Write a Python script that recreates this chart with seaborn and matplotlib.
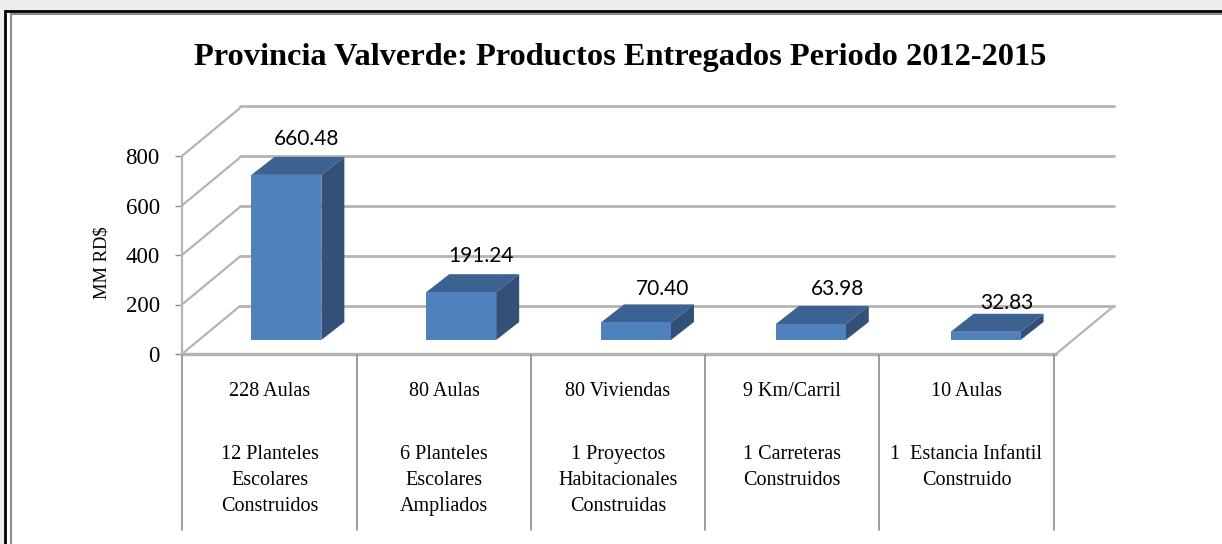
import matplotlib
matplotlib.use("Agg")
import matplotlib.pyplot as plt
import seaborn as sns
import pandas as pd
from matplotlib.patches import Polygon, Rectangle
from matplotlib.lines import Line2D

W, H = 1222, 544
categories = ["228 Aulas", "80 Aulas", "80 Viviendas", "9 Km/Carril", "10 Aulas"]
values = [660.48, 191.24, 70.40, 63.98, 32.83]
value_labels = ["660.48", "191.24", "70.40", "63.98", "32.83"]
descriptions = ["12 Planteles\nEscolares\nConstruidos", "6 Planteles\nEscolares\nAmpliados",
                "1 Proyectos\nHabitacionales\nConstruidas", "1 Carreteras\nConstruidos",
                "1  Estancia Infantil\nConstruido"]
y_ticks = [0, 200, 400, 600, 800]
title = "Provincia Valverde: Productos Entregados Periodo 2012-2015"
y_label = "MM RD$"

sns.set_theme(style="white")
plt.rcParams["font.family"] = ["Liberation Serif", "DejaVu Serif"]

fig = plt.figure(figsize=(W / 100, H / 100), dpi=100, facecolor="#efeeec")

X0, X1, Y0, Y1 = 182, 1056, 354, 156   # front plane in px
DX, DY = 58, 48                        # wall depth
BDX, BDY = 17, 14                      # bar front offset
DEPTH_X, DEPTH_Y = 23, 18              # bar depth
LABEL_PX = [(307, 139), (481, 256), (663, 289), (838, 289), (1007, 303)]  # label anchors

def axes_at(x0, x1, y0, y1, z):
    a = fig.add_axes([x0 / W, 1 - y0 / H, (x1 - x0) / W, (y0 - y1) / H], zorder=z)
    a.patch.set_alpha(0)
    return a

# overlay in pixel coordinates for frame and projection lines
bg = fig.add_axes([0, 0, 1, 1], zorder=0)
bg.set_xlim(0, W); bg.set_ylim(H, 0); bg.axis("off")
bg.add_patch(Rectangle((5, 10.5), 1300, 600, fc="white", ec="black", lw=2))
bg.add_patch(Rectangle((10.5, 14), 1300, 600, fc="white", ec="#8a8a8a", lw=1.5))

GRID = "#b4b4b4"
# back wall with its gridlines
back = axes_at(X0 + DX, X1 + DX, Y0 - DY, Y1 - DY - 2, 1)
back.set_xlim(-0.5, 4.5); back.set_ylim(0, 800)
back.set_yticks(y_ticks); back.set_xticks([])
back.tick_params(left=False, labelleft=False)
back.grid(axis="y", color=GRID, lw=2)
for gl in back.get_ygridlines():
    gl.set_clip_on(False)
for s in back.spines.values():
    s.set_visible(False)

# projection lines from the front plane to the back wall
px_per_val = (Y0 - Y1) / 800
for v in y_ticks:
    y = Y0 - v * px_per_val
    bg.add_line(Line2D([X0, X0 + DX], [y, y - DY], color=GRID, lw=1.6))
bg.add_line(Line2D([X1, X1 + DX], [Y0, Y0 - DY], color=GRID, lw=1.6))
bg.add_line(Line2D([X0, X1], [Y0, Y0], color=GRID, lw=2.4))

# front axis: tick labels and title of the value axis
front = axes_at(X0, X1, Y0, Y1, 2)
front.set_xlim(-0.5, 4.5); front.set_ylim(0, 800)
front.set_yticks(y_ticks); front.set_xticks([])
front.tick_params(axis="y", left=True, length=5, width=1, color="#8c8c8c", labelsize=16.5, pad=11, labelcolor="black")
for s in ["top", "right", "bottom"]:
    front.spines[s].set_visible(False)
front.spines["left"].set_color(GRID); front.spines["left"].set_linewidth(1.6)
bg.text(102, 263, y_label, rotation=90, ha="center", va="center", fontsize=13.3, color="black")

# bars drawn by seaborn in a plane shifted into the depth
bars = axes_at(X0 + BDX, X1 + BDX, Y0 - BDY, Y1 - BDY - 2, 3)
df = pd.DataFrame({"cat": categories, "val": values})
sns.barplot(data=df, x="cat", y="val", ax=bars, color="#4f81bd", saturation=1, width=0.4,
            order=categories, edgecolor="none", linewidth=0)
bars.set_xlim(-0.5, 4.5); bars.set_ylim(0, 800)
bars.axis("off")
ux = 5 / (X1 - X0)
uy = 800 / (Y0 - Y1 + 2)
for p, lab, (lx, ly) in zip(bars.patches, value_labels, LABEL_PX):
    x, w, h = p.get_x(), p.get_width(), p.get_height()
    dx, dy = DEPTH_X * ux, DEPTH_Y * uy
    p.set_zorder(3)
    bars.add_patch(Polygon([(x, h), (x + w, h), (x + w + dx, h + dy), (x + dx, h + dy)],
                           fc="#3b6290", ec="none", clip_on=False, zorder=2))
    bars.add_patch(Polygon([(x + w, 0), (x + w + dx, dy), (x + w + dx, h + dy), (x + w, h)],
                           fc="#335178", ec="none", clip_on=False, zorder=2))
    fig.text(lx / W, 1 - ly / H, lab, ha="center", va="center", fontsize=15,
             family="Lato", color="black", zorder=5)

# category table under the axis
edges = [182, 357, 531, 705, 879, 1054]
for e in edges:
    bg.add_line(Line2D([e, e], [Y0 + 1, 530], color="#8c8c8c", lw=1.2))
for i, (c, d) in enumerate(zip(categories, descriptions)):
    cx = (edges[i] + edges[i + 1]) / 2
    bg.text(cx, 392, c, ha="center", va="center", fontsize=14.5, color="black")
    for j, line in enumerate(d.split("\n")):
        bg.text(cx, 454.5 + j * 26, line, ha="center", va="center", fontsize=14.5, color="black")

fig.text(620 / W, 1 - 58 / H, title, ha="center", va="center", fontsize=23.3, fontweight="bold", color="black")

fig.savefig("out.png", dpi=100, facecolor=fig.get_facecolor())
